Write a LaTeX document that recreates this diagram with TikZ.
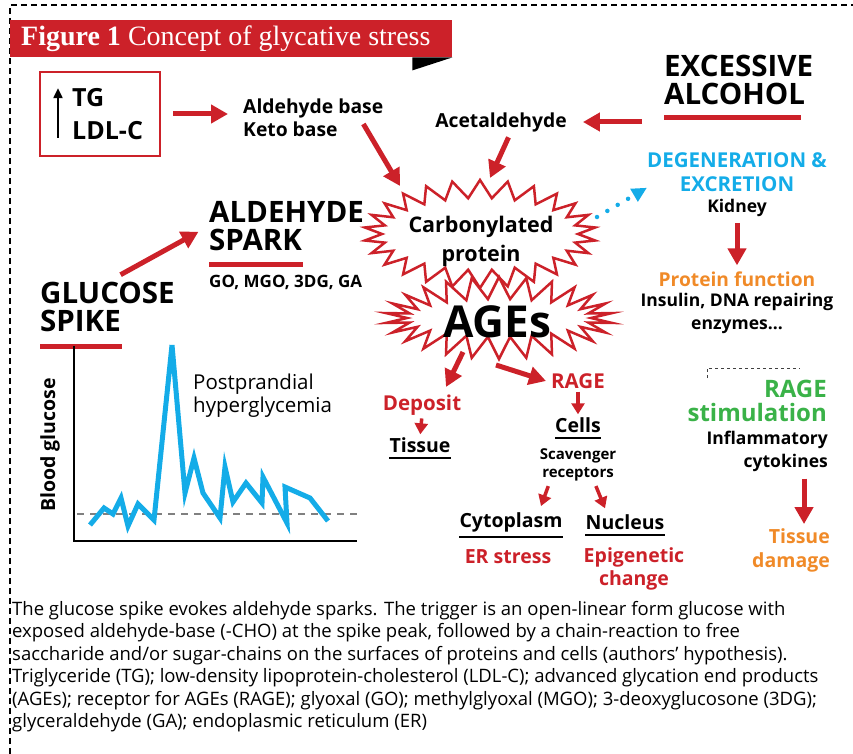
\documentclass[tikz,border=0pt]{standalone}
\usepackage{fontspec}
\setmainfont{Open Sans}
\newfontfamily\titlefont{Liberation Serif}
\usetikzlibrary{arrows.meta,shapes.symbols}

\definecolor{figred}{RGB}{204,33,41}
\definecolor{figcyan}{RGB}{20,172,232}
\definecolor{figorange}{RGB}{240,138,40}
\definecolor{figgreen}{RGB}{58,178,72}

\tikzset{
  lbl/.style={font=\bfseries\fontsize{17.5}{23}\selectfont, align=center, inner sep=0pt},
  head/.style={font=\bfseries\fontsize{29.5}{28}\selectfont, align=left, inner sep=0pt, anchor=west},
  item/.style={font=\bfseries\fontsize{19.5}{23}\selectfont, align=center, inner sep=0pt},
  redarrow/.style={draw=figred, line width=5pt, -{Triangle[length=17pt,width=18pt]}},
  smallarrow/.style={draw=figred, line width=3.5pt, -{Triangle[length=11pt,width=13pt]}},
  redbar/.style={draw=figred, line width=5pt},
  ubar/.style={draw=black, line width=2pt},
  burst/.style={starburst, starburst points=26, starburst point height=22pt,
    random starburst=0, draw=figred, fill=white, line width=2.5pt, inner sep=0pt}
}

\begin{document}
\begin{tikzpicture}[x=1pt, y=-1pt]
  \useasboundingbox (0,0) rectangle (853,754);

  % frame and title
  \draw[dashed, line width=1.5pt, dash pattern=on 6pt off 4pt] (10,754) -- (10,5) -- (853,5);
  \node[fill=figred, anchor=north west, minimum width=442pt, minimum height=37pt, inner sep=0pt] (banner) at (10,20) {};
  \fill (banner.south east) -- ++(-40,0) -- ++(0,13) -- cycle;
  \node[anchor=west, text=white, inner sep=0pt, font=\titlefont\fontsize{28}{28}\selectfont] (title) at (21,39)
    {\bfseries Figure 1 \mdseries Concept of glycative stress};

  % top row
  \node[draw=figred, line width=2.5pt, minimum width=120pt, minimum height=84pt] (tgbox) at (100,114) {};
  \node[font=\bfseries\fontsize{25}{33}\selectfont, align=left, inner sep=0pt, anchor=west] (tgtext) at (72,114) {TG\\LDL-C};
  \draw[line width=2pt, -{Triangle[length=10pt,width=9pt]}] ([xshift=-14pt,yshift=2pt]tgtext.south west) -- ([xshift=-14pt]tgtext.north west);
  \node[lbl, align=left, anchor=west, font=\bfseries\fontsize{19.3}{23}\selectfont] (aldbase) at (243,118) {Aldehyde base\\Keto base};
  \node[head] (alcohol) at (664,80) {EXCESSIVE\\ALCOHOL};
  \draw[redbar] ([yshift=-12pt]alcohol.south west) -- ++(137,0);
  \node[lbl, font=\bfseries\fontsize{19.3}{23}\selectfont] (acetal) at (501,122) {Acetaldehyde};

  % bursts
  \node[burst, starburst point height=18pt, minimum width=232pt, minimum height=108pt] (carb) at (480,234) {};
  \node[item, font=\bfseries\fontsize{21.5}{29}\selectfont] (carbtext) at (481,241) {Carbonylated\\protein};
  \node[burst, minimum width=228pt, minimum height=82pt] (ages) at (499,318) {};
  \node[font=\bfseries\fontsize{44}{44}\selectfont, inner sep=0pt] (agestext) at (497,322) {AGEs};

  % right column
  \node[lbl, text=figcyan, font=\bfseries\fontsize{20.5}{24}\selectfont] (degen) at (737,172) {DEGENERATION \&\\EXCRETION};
  \node[lbl] (kidney) at (737,208) {Kidney};
  \node[lbl, text=figorange, font=\bfseries\fontsize{19.2}{23}\selectfont] (protfun) at (737,279) {Protein function};
  \node[lbl] (insulin) at (737,313) {Insulin, DNA repairing\\enzymes...};
  \draw[black!75, dashed, line width=1pt] (707,378) -- (707,368) -- (800,368);
  \node[lbl, align=right, anchor=east, text=figgreen, font=\bfseries\fontsize{24}{24}\selectfont] (ragestim) at (827,401) {RAGE\\stimulation};
  \node[lbl, align=right, anchor=east] (inflam) at (828,451) {Inflammatory\\cytokines};
  \node[lbl, align=right, anchor=east, text=figorange, font=\bfseries\fontsize{19.5}{24}\selectfont] (tdamage) at (830,550) {Tissue\\damage};

  % left column
  \node[head] (aldspark) at (209,226) {ALDEHYDE\\SPARK};
  \draw[redbar] ([yshift=-14pt]aldspark.south west) -- ++(94,0);
  \node[lbl, anchor=west, font=\bfseries\fontsize{17}{18}\selectfont] (gomgo) at (209,282) {GO, MGO, 3DG, GA};
  \node[head] (glucose) at (40,307) {GLUCOSE\\SPIKE};
  \draw[redbar] ([yshift=-14pt]glucose.south west) -- ++(82,0);

  % graph
  \coordinate (gorig) at (74,541);
  \draw[line width=2pt] (74,346) -- (gorig) -- (357,541);
  \draw[gray, dashed, line width=1.5pt, dash pattern=on 7pt off 6pt] (77,514) -- (358,514);
  \draw[figcyan, line width=5pt, line join=miter] plot coordinates {
    (90,525) (104,508) (113,514) (121,498) (128,526) (138,504) (154,520) (172,345)
    (185,493) (194,458) (203,493) (220,518) (225,467) (233,502) (246,483) (262,503)
    (263,477) (287,523) (285,487) (310,498) (328,521)};
  \node[lbl, rotate=90, font=\bfseries\fontsize{19.5}{18}\selectfont] (bloodg) at (50,445) {Blood glucose};
  \node[lbl, anchor=west, align=left, font=\fontsize{20.5}{23}\selectfont] (postp) at (193,396) {Postprandial\\hyperglycemia};

  % AGEs branches
  \node[item, text=figred, font=\bfseries\fontsize{20.5}{23}\selectfont] (deposit) at (422,405) {Deposit};
  \node[item] (tissue) at (420,445) {Tissue};
  \draw[ubar] ([yshift=-5pt]tissue.south west) -- ([yshift=-5pt]tissue.south east);
  \node[item, text=figred, font=\bfseries\fontsize{20.5}{23}\selectfont] (rage) at (578,381) {RAGE};
  \node[item] (cells) at (578,425) {Cells};
  \draw[ubar] ([yshift=-5pt]cells.south west) -- ([yshift=-5pt]cells.south east);
  \node[lbl, font=\bfseries\fontsize{15}{18}\selectfont] (scav) at (578,465) {Scavenger\\receptors};
  \node[item] (cyto) at (511,522) {Cytoplasm};
  \draw[ubar] ([yshift=-5pt]cyto.south west) -- ([yshift=-5pt]cyto.south east);
  \node[item] (nucleus) at (625,522) {Nucleus};
  \draw[ubar] ([yshift=-5pt]nucleus.south west) -- ([yshift=-5pt]nucleus.south east);
  \node[item, text=figred] (erstress) at (508,557) {ER stress};
  \node[item, text=figred] (epig) at (634,569) {Epigenetic\\change};

  % connectors
  \draw[redarrow, shorten <=12pt, shorten >=15pt] (tgbox.east) -- (tgbox.east -| aldbase.west);
  \draw[redarrow] ([shift={(-20,6)}]aldbase.east) -- ([shift={(-80,-48)}]carb.center);
  \draw[redarrow, shorten <=22pt, shorten >=16pt] (acetal.east -| alcohol.west) -- (acetal.east);
  \draw[redarrow, shorten <=6pt] ([xshift=10pt]acetal.south) -- ([shift={(10,-56)}]carb.center);
  \draw[redarrow, shorten <=15pt, shorten >=12pt] (glucose.north) -- (aldspark.west);
  \draw[figcyan, line width=4.5pt, line cap=round, dash pattern=on 0pt off 12pt,
    -{Triangle[length=15pt,width=14pt]}] ([shift={(117,-17)}]carb.center) -- ([yshift=4pt]degen.south west);
  \draw[redarrow, shorten <=6pt, shorten >=6pt] (kidney.south) -- (protfun.north);
  \draw[redarrow, shorten <=7pt, shorten >=4pt] ([xshift=13pt]inflam.south -| tdamage.north) -- ([xshift=13pt]tdamage.north);
  \draw[redarrow] ([shift={(-36,34)}]ages.center) -- ([shift={(24,-18)}]deposit.center);
  \draw[redarrow] ([shift={(-3,47)}]ages.center) -- ([xshift=-5pt]rage.west);
  \draw[smallarrow, shorten <=3pt, shorten >=3pt] (deposit.south) -- (tissue.north);
  \draw[smallarrow, shorten <=3pt, shorten >=3pt] (rage.south) -- (cells.north);
  \draw[smallarrow, shorten <=5pt] ([xshift=-28pt]scav.south) -- ([xshift=30pt,yshift=6pt]cyto.north);
  \draw[smallarrow, shorten <=5pt] ([xshift=16pt]scav.south) -- ([xshift=-20pt,yshift=6pt]nucleus.north);

  % caption
  \node[anchor=north west, align=left, inner sep=0pt, font=\fontsize{18.5}{22.5}\selectfont] (caption) at (12,601)
    {The glucose spike evokes aldehyde sparks. The trigger is an open-linear form glucose with\\
     exposed aldehyde-base (-CHO) at the spike peak, followed by a chain-reaction to free\\
     saccharide and/or sugar-chains on the surfaces of proteins and cells (authors' hypothesis).\\
     Triglyceride (TG); low-density lipoprotein-cholesterol (LDL-C); advanced glycation end products\\
     (AGEs); receptor for AGEs (RAGE); glyoxal (GO); methylglyoxal (MGO); 3-deoxyglucosone (3DG);\\
     glyceraldehyde (GA); endoplasmic reticulum (ER)};
\end{tikzpicture}
\end{document}
